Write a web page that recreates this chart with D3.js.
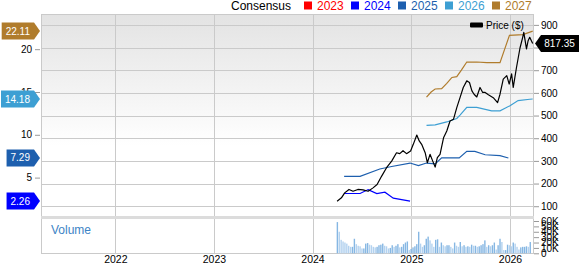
<!DOCTYPE html>
<html><head><meta charset="utf-8">
<script src="https://cdn.jsdelivr.net/npm/d3@7"></script>
<style>
body{margin:0;background:#fff}
svg{display:block;font-family:"Liberation Sans",Arial,sans-serif}
</style>
</head><body>
<svg id="c" width="579" height="264"></svg>
<script>
// ---------------- DATA ----------------
const legendYears = ["2023", "2024", "2025", "2026", "2027"];
const yearTicks = ["2022-01-01", "2023-01-01", "2024-01-01", "2025-01-01", "2026-01-01"];
const epsTicks = [5, 10, 15, 20];
const priceTicks = [100, 200, 300, 400, 500, 600, 700, 800, 900];
const volumeTicks = [0, 10, 20, 30, 40, 50, 60]; // thousands

const priceDates = ["2024-04-01","2024-04-17","2024-04-29","2024-05-15","2024-05-30","2024-06-17","2024-07-06","2024-07-25","2024-08-12","2024-08-27","2024-09-13","2024-10-01","2024-10-20","2024-11-07","2024-11-19","2024-12-01","2024-12-14","2024-12-29","2025-01-08","2025-01-21","2025-01-30","2025-02-08","2025-02-21","2025-03-01","2025-03-11","2025-03-21","2025-03-30","2025-04-07","2025-04-17","2025-04-30","2025-05-12","2025-05-24","2025-06-06","2025-06-18","2025-06-30","2025-07-12","2025-07-25","2025-08-04","2025-08-13","2025-08-21","2025-08-31","2025-09-12","2025-09-22","2025-10-01","2025-10-13","2025-10-31","2025-11-16","2025-11-25","2025-12-07","2025-12-20","2025-12-29","2026-01-07","2026-01-13","2026-01-25","2026-02-07","2026-02-17","2026-02-21","2026-03-03","2026-03-09","2026-03-15","2026-03-26"];
const priceValues = [122,137,159,174,166,174,172,166,181,196,233,270,299,336,332,345,332,344,373,414,388,373,336,292,329,299,273,314,329,402,432,476,484,535,579,624,653,646,609,594,582,624,602,602,592,579,557,594,661,676,639,684,624,712,798,845,867,794,830,845,817.35];

const eps2024Dates = ["2024-04-27","2024-06-25","2024-07-25","2024-08-26","2024-09-25","2024-10-26","2024-12-27"];
const eps2024Values = [3.14,3.14,3.6,3.14,3.3,2.6,2.26];

const eps2025Dates = ["2024-04-27","2024-06-25","2024-09-06","2024-10-20","2024-12-27","2025-01-27","2025-02-26","2025-03-30","2025-04-23","2025-06-27","2025-07-25","2025-08-24","2025-10-01","2025-11-25","2025-12-26"];
const eps2025Values = [5.15,5.15,6.0,6.3,6.7,6.4,6.7,6.6,7.3,7.3,8.06,8.06,7.67,7.56,7.29];

const eps2026Dates = ["2025-02-26","2025-03-30","2025-05-12","2025-06-18","2025-06-30","2025-07-25","2025-08-31","2025-10-25","2025-11-25","2026-01-01","2026-01-31","2026-03-15","2026-03-26"];
const eps2026Values = [11.1,11.16,11.5,11.9,12.3,13.2,13.2,12.8,12.8,13.4,14.0,14.15,14.18];

const eps2027Dates = ["2025-02-26","2025-03-15","2025-03-30","2025-04-23","2025-05-12","2025-05-31","2025-06-18","2025-07-05","2025-07-25","2025-08-31","2025-10-07","2025-11-25","2025-12-30","2026-02-18","2026-03-26"];
const eps2027Values = [14.4,15.0,15.35,15.4,16.0,16.7,16.8,17.56,18.5,18.5,18.42,18.42,21.62,21.7,22.11];

const volumeStart = "2024-04-02";
const volumeValues = [58,40,25,22,20,18,14,12,12,27,17,14,13,9,9,18,19,16,15,12,11,12,15,16,18,14,13,9,10,15,12,14,17,11,12,17,20,22,6,8,11,13,17,40,18,12,15,27,31,24,18,12,25,26,12,20,15,13,15,15,12,9,20,14,12,21,13,15,12,13,12,16,14,14,12,13,15,17,24,12,15,13,15,20,7,15,27,21,6,6,16,15,13,20,18,12,7,11,12,12,13,12,21];

const lastPrice = 817.35;

// ---------------- STYLE ----------------
const colors = {"2023":"#ff0000","2024":"#0000ff","2025":"#1d5fae","2026":"#3d9fd3","2027":"#b07c2c"};
const gridColor = "#cacaca";

// ---------------- CHART ----------------
const parse = d3.timeParse("%Y-%m-%d");
const svg = d3.select("#c");
const P = {l:41, r:534, t:14, b:217, vt:218, vb:254};

const xBase = d3.scaleTime().domain([parse("2022-01-01"), parse("2026-01-01")]).range([115.3, 510]);
const x = d3.scaleTime().domain([xBase.invert(P.l), xBase.invert(P.r)]).range([P.l, P.r]);
const yL = d3.scaleLinear().domain([0, 24.11]).range([220.4, 14]);
const yR = d3.scaleLinear().domain([0, 948]).range([228.9, 14]);
const yV = d3.scaleLinear().domain([0, 60]).range([253.3, 221]);

const defs = svg.append("defs");
const grad = defs.append("linearGradient").attr("id","bg").attr("x1",0).attr("y1",0).attr("x2",0).attr("y2",1);
grad.append("stop").attr("offset","0%").attr("stop-color","#e3e3e3");
grad.append("stop").attr("offset","65%").attr("stop-color","#ffffff");
grad.append("stop").attr("offset","100%").attr("stop-color","#ffffff");
defs.append("clipPath").attr("id","clipMain").append("rect")
  .attr("x",P.l).attr("y",P.t).attr("width",P.r-P.l).attr("height",P.b-P.t);

// backgrounds
svg.append("rect").attr("x",P.l).attr("y",P.t).attr("width",P.r-P.l).attr("height",P.b-P.t).attr("fill","url(#bg)");
svg.append("rect").attr("x",P.l).attr("y",P.vt).attr("width",P.r-P.l).attr("height",P.vb-P.vt).attr("fill","#fff");

// horizontal grid (price ticks)
svg.append("g").selectAll("line").data(priceTicks).join("line")
  .attr("x1",P.l).attr("x2",P.r).attr("y1",d=>Math.round(yR(d))+0.5).attr("y2",d=>Math.round(yR(d))+0.5)
  .attr("stroke",gridColor).attr("stroke-width",1);
// vertical grid (years)
svg.append("g").selectAll("line").data(yearTicks).join("line")
  .attr("x1",d=>Math.round(x(parse(d)))+0.5).attr("x2",d=>Math.round(x(parse(d)))+0.5)
  .attr("y1",P.t).attr("y2",P.vb).attr("stroke",gridColor).attr("stroke-width",1);

// panel borders
svg.append("rect").attr("x",P.l+0.5).attr("y",P.t+0.5).attr("width",P.r-P.l-1).attr("height",P.vb-P.t-1)
  .attr("fill","none").attr("stroke",gridColor);
svg.append("rect").attr("x",P.l).attr("y",216).attr("width",P.r-P.l).attr("height",3).attr("fill","#dcdcdc");

// volume bars
const v0 = parse(volumeStart);
const vol = volumeValues.map((v,i)=>({d:d3.timeDay.offset(v0, i*7), v, up: i===0 || v>=volumeValues[i-1]}));
svg.append("g").selectAll("rect").data(vol).join("rect")
  .attr("x",d=>x(d.d)-0.7).attr("width",1.4)
  .attr("y",d=>yV(d.v)).attr("height",d=>yV(0)-yV(d.v))
  .attr("fill",d=>d.up?"#86b7e3":"#b3d2ef");

svg.append("text").attr("x",51).attr("y",233.5).attr("font-size",12).attr("fill","#3d84c6").text("Volume");

// lines
const gLines = svg.append("g").attr("clip-path","url(#clipMain)");
const mk = (dates, vals) => dates.map((d,i)=>({d:parse(d), v:vals[i]}));
const epsSeries = [
  {k:"2024", data: mk(eps2024Dates, eps2024Values)},
  {k:"2025", data: mk(eps2025Dates, eps2025Values)},
  {k:"2026", data: mk(eps2026Dates, eps2026Values)},
  {k:"2027", data: mk(eps2027Dates, eps2027Values)}
];
const lineL = d3.line().x(d=>x(d.d)).y(d=>yL(d.v));
epsSeries.forEach(s=>{
  gLines.append("path").datum(s.data).attr("d",lineL).attr("fill","none")
    .attr("stroke",colors[s.k]).attr("stroke-width",1.2);
});
const priceData = mk(priceDates, priceValues);
gLines.append("path").datum(priceData)
  .attr("d", d3.line().x(d=>x(d.d)).y(d=>yR(d.v)))
  .attr("fill","none").attr("stroke","#000").attr("stroke-width",1.2).attr("stroke-linejoin","round");

// axes
const styleAxis = g => {
  g.select(".domain").remove();
  g.selectAll(".tick line").attr("stroke","#999");
  g.selectAll(".tick text").attr("fill","#000").attr("font-family","Liberation Sans, Arial, sans-serif");
};
svg.append("g").attr("transform",`translate(${P.l-1},0)`)
  .call(d3.axisLeft(yL).tickValues(epsTicks).tickSize(5).tickPadding(3))
  .attr("font-size",10).call(styleAxis);
svg.append("g").attr("transform",`translate(${P.r},0)`)
  .call(d3.axisRight(yR).tickValues(priceTicks).tickSize(5).tickPadding(2))
  .attr("font-size",10).call(styleAxis);
svg.append("g").attr("transform",`translate(${P.r},0)`)
  .call(d3.axisRight(yV).tickValues(volumeTicks).tickSize(5).tickPadding(2).tickFormat(d=>d===0?"0":d+"K"))
  .attr("font-size",10).call(styleAxis);
svg.append("g").attr("transform",`translate(0,${P.vb})`)
  .call(d3.axisBottom(x).tickValues(yearTicks.map(parse)).tickSize(0).tickPadding(2).tickFormat(d3.timeFormat("%Y")))
  .attr("font-size",10.5).call(styleAxis);

// left value tags
epsSeries.forEach(s=>{
  const last = s.data[s.data.length-1];
  const y = yL(last.v);
  const g = svg.append("g");
  const t = g.append("text").attr("font-size",10).attr("fill","#fff").attr("text-anchor","middle")
    .attr("dy","0.35em").text(last.v.toFixed(2));
  const w = t.node().getComputedTextLength()+8;
  const tip = 40, right = 34, h = 8.5;
  g.insert("path","text").attr("d",`M${right-w},${y-h}L${right},${y-h}L${tip},${y}L${right},${y+h}L${right-w},${y+h}Z`)
    .attr("fill",colors[s.k]);
  t.attr("x",right-w/2).attr("y",y);
});

// right price tag
{
  const y = yR(lastPrice);
  const g = svg.append("g");
  g.append("path").attr("d",`M535,${y}L541,${y-8.5}L579,${y-8.5}L579,${y+8.5}L541,${y+8.5}Z`).attr("fill","#000");
  g.append("text").attr("x",559.5).attr("y",y).attr("dy","0.35em").attr("text-anchor","middle")
    .attr("font-size",10).attr("fill","#fff").text(lastPrice.toFixed(2));
}

// price legend
svg.append("rect").attr("x",470).attr("y",22.5).attr("width",13).attr("height",5).attr("rx",1).attr("fill","#000");
svg.append("text").attr("x",486).attr("y",28.5).attr("font-size",10).attr("fill","#000").text("Price ($)");

// top legend
svg.append("text").attr("x",231).attr("y",10).attr("font-size",12).attr("fill","#000").text("Consensus");
const lg = svg.append("g").selectAll("g").data(legendYears).join("g")
  .attr("transform",(d,i)=>`translate(${304+i*47},0)`);
lg.append("rect").attr("x",0).attr("y",1.5).attr("width",8).attr("height",8).attr("fill",d=>colors[d]);
lg.append("text").attr("x",13).attr("y",10).attr("font-size",12).attr("fill",d=>colors[d]).text(d=>d);
</script>
</body></html>
